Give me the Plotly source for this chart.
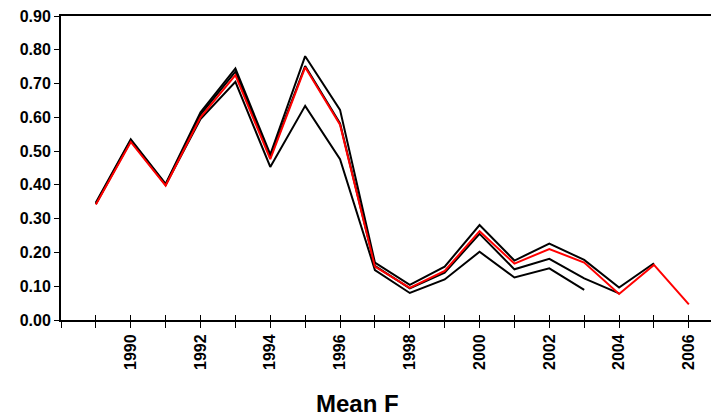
import plotly.graph_objects as go

years = list(range(1989, 2007))

# Retrospective runs of mean F (terminal years 2003, 2004, 2005 in black; 2006 in red)
f_2003 = [0.343, 0.530, 0.400, 0.595, 0.705, 0.453, 0.634, 0.476, 0.148, 0.080, 0.120, 0.202, 0.126, 0.153, 0.089]
f_2004 = [0.345, 0.532, 0.401, 0.608, 0.735, 0.482, 0.752, 0.582, 0.160, 0.094, 0.140, 0.255, 0.150, 0.181, 0.123, 0.079]
f_2005 = [0.348, 0.535, 0.403, 0.615, 0.745, 0.490, 0.781, 0.622, 0.170, 0.104, 0.158, 0.281, 0.176, 0.226, 0.178, 0.096, 0.168]
f_2006 = [0.342, 0.527, 0.398, 0.600, 0.725, 0.476, 0.748, 0.578, 0.158, 0.095, 0.145, 0.263, 0.167, 0.210, 0.170, 0.077, 0.163, 0.046]

y_ticks = [i / 10 for i in range(10)]
x_tickvals = list(range(1988, 2007))
x_ticktext = [str(y) if y % 2 == 0 and y != 1988 else "" for y in x_tickvals]
title_text = "Mean F"

fig = go.Figure()
for vals in (f_2003, f_2004, f_2005):
    fig.add_trace(go.Scatter(x=years[:len(vals)], y=vals, mode="lines",
                             line=dict(color="black", width=2), showlegend=False,
                             hoverinfo="skip"))
fig.add_trace(go.Scatter(x=years, y=f_2006, mode="lines",
                         line=dict(color="#ff0000", width=2), showlegend=False))
# invisible trace to anchor overlay axis (for inward tick marks)
fig.add_trace(go.Scatter(x=[years[0]], y=[f_2006[0]], xaxis="x2", mode="lines",
                         line=dict(width=0), showlegend=False, hoverinfo="skip"))

xrange = [1988, 1988 + 650 / 34.88]
font = "Liberation Sans, Arial, sans-serif"

fig.update_layout(
    width=711, height=420,
    margin=dict(l=61, r=0, t=16, b=100, autoexpand=False),
    paper_bgcolor="white", plot_bgcolor="white",
    font=dict(family=font, color="black"),
    xaxis=dict(range=xrange, tickmode="array", tickvals=x_tickvals, ticktext=x_ticktext,
               tickangle=-90, ticks="outside", ticklen=6, tickwidth=1, tickcolor="black",
               showline=True, linecolor="black", linewidth=2, mirror=True,
               showgrid=False, zeroline=False, automargin=False,
               tickfont=dict(family=font, size=16, color="black", weight="bold")),
    xaxis2=dict(range=xrange, overlaying="x", tickmode="array", tickvals=x_tickvals,
                ticktext=["" for _ in x_tickvals], ticks="inside", ticklen=5, tickwidth=1,
                tickcolor="black", showline=False, showgrid=False, zeroline=False,
                side="bottom", anchor="y", automargin=False),
    yaxis=dict(range=[0, 0.9], tickmode="array", tickvals=y_ticks,
               ticktext=[f"{v:.2f}" for v in y_ticks],
               ticks="outside", ticklen=5, tickwidth=1, tickcolor="black",
               showline=True, linecolor="black", linewidth=2,
               showgrid=False, zeroline=False, automargin=False,
               tickfont=dict(family=font, size=16, color="black", weight="bold")),
    annotations=[dict(text=title_text, xref="paper", yref="paper",
                      x=(357 - 61) / 650, y=(320 - 403) / 304,
                      xanchor="center", yanchor="middle", showarrow=False,
                      font=dict(family=font, size=24, color="black", weight="bold"))],
)

fig.write_html("out.html", config={"displayModeBar": False},
               post_script="document.body.style.margin='0';document.body.style.padding='0';")
